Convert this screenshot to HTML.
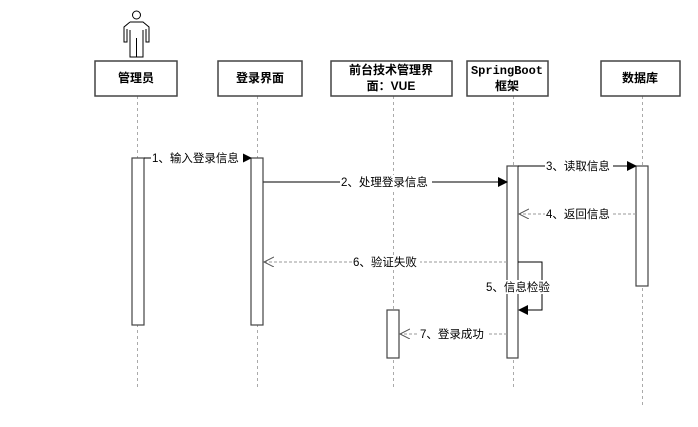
<!DOCTYPE html>
<html><head><meta charset="utf-8"><style>
body{margin:0;background:#fff;width:698px;height:422px;overflow:hidden}
svg text{font-family:"Liberation Sans","Noto Sans CJK SC",sans-serif;font-size:11.5px;fill:#000}
.h{font-weight:bold;font-size:12px}
</style></head><body>
<svg width="698" height="422" viewBox="0 0 698 422" xmlns="http://www.w3.org/2000/svg">
<defs>
<marker id="f" markerWidth="10" markerHeight="10" refX="9" refY="5" orient="auto" markerUnits="userSpaceOnUse"><path d="M0,0 L10,5 L0,10 z" fill="#000"/></marker>
<marker id="o" markerWidth="12" markerHeight="12" refX="10" refY="5" orient="auto" markerUnits="userSpaceOnUse"><path d="M0,0 L10,5 L0,10" fill="none" stroke="#555" stroke-width="1"/></marker>
</defs>
<g fill="none" stroke="#000" stroke-width="1">
<circle cx="136.5" cy="15" r="4"/>
<path d="M130,22 H143 L149,27 V42 H146 V29 M130,22 L124,27 V42 H127 V29 M130,30 V57 H143 V30 M136.5,38 V57"/>
</g>
<g stroke="#aaa" stroke-dasharray="3,3" stroke-width="1">
<line x1="137.5" y1="96" x2="137.5" y2="390"/>
<line x1="257.5" y1="96" x2="257.5" y2="390"/>
<line x1="393.5" y1="96" x2="393.5" y2="390"/>
<line x1="513.5" y1="96" x2="513.5" y2="390"/>
<line x1="642.5" y1="96" x2="642.5" y2="405"/>
</g>
<g fill="#fff" stroke="#444" stroke-width="1.5">
<rect x="95" y="61" width="82" height="35"/>
<rect x="218" y="61" width="84" height="35"/>
<rect x="331" y="61" width="121" height="35"/>
<rect x="467" y="61" width="81" height="35"/>
<rect x="601" y="61" width="79" height="35"/>
</g>
<text class="h" x="136" y="82" text-anchor="middle">管理员</text>
<text class="h" x="260" y="82" text-anchor="middle">登录界面</text>
<text class="h" x="391" y="74" text-anchor="middle">前台技术管理界</text>
<text class="h" x="391" y="90" text-anchor="middle">面：VUE</text>
<text class="h" x="507" y="74" text-anchor="middle" style="font-family:'Liberation Mono',monospace">SpringBoot</text>
<text class="h" x="507" y="90" text-anchor="middle">框架</text>
<text class="h" x="640" y="82" text-anchor="middle">数据库</text>
<g fill="#fff" stroke="#444" stroke-width="1.2">
<rect x="132" y="158" width="12" height="167"/>
<rect x="251" y="158" width="12" height="167"/>
<rect x="507" y="166" width="11" height="192"/>
<rect x="636" y="166" width="12" height="120"/>
<rect x="387" y="310" width="12" height="48"/>
</g>
<g stroke="#000" stroke-width="1" fill="none">
<line x1="144" y1="158" x2="251" y2="158" marker-end="url(#f)"/>
<line x1="263" y1="182" x2="507" y2="182" marker-end="url(#f)" stroke="#333" stroke-width="1.3"/>
<line x1="518" y1="166" x2="636" y2="166" marker-end="url(#f)"/>
<path d="M518,262 H542 V310 H519" marker-end="url(#f)"/>
</g>
<g stroke="#999" stroke-width="1" stroke-dasharray="3,2" fill="none">
<line x1="636" y1="214" x2="519" y2="214" marker-end="url(#o)"/>
<line x1="507" y1="262" x2="264" y2="262" marker-end="url(#o)"/>
<line x1="507" y1="334" x2="400" y2="334" marker-end="url(#o)"/>
</g>
<g>
<rect x="151" y="151" width="92" height="14" fill="#fff"/>
<text x="152" y="162">1、输入登录信息</text>
<rect x="340" y="175" width="92" height="14" fill="#fff"/>
<text x="341" y="186">2、处理登录信息</text>
<rect x="545" y="159" width="68" height="14" fill="#fff"/>
<text x="546" y="170">3、读取信息</text>
<rect x="545" y="207" width="68" height="14" fill="#fff"/>
<text x="546" y="218">4、返回信息</text>
<rect x="352" y="255" width="68" height="14" fill="#fff"/>
<text x="353" y="266">6、验证失败</text>
<rect x="486" y="280" width="68" height="14" fill="#fff"/>
<text x="486" y="291">5、信息检验</text>
<rect x="419" y="327" width="68" height="14" fill="#fff"/>
<text x="420" y="338">7、登录成功</text>
</g>
</svg>
</body></html>
